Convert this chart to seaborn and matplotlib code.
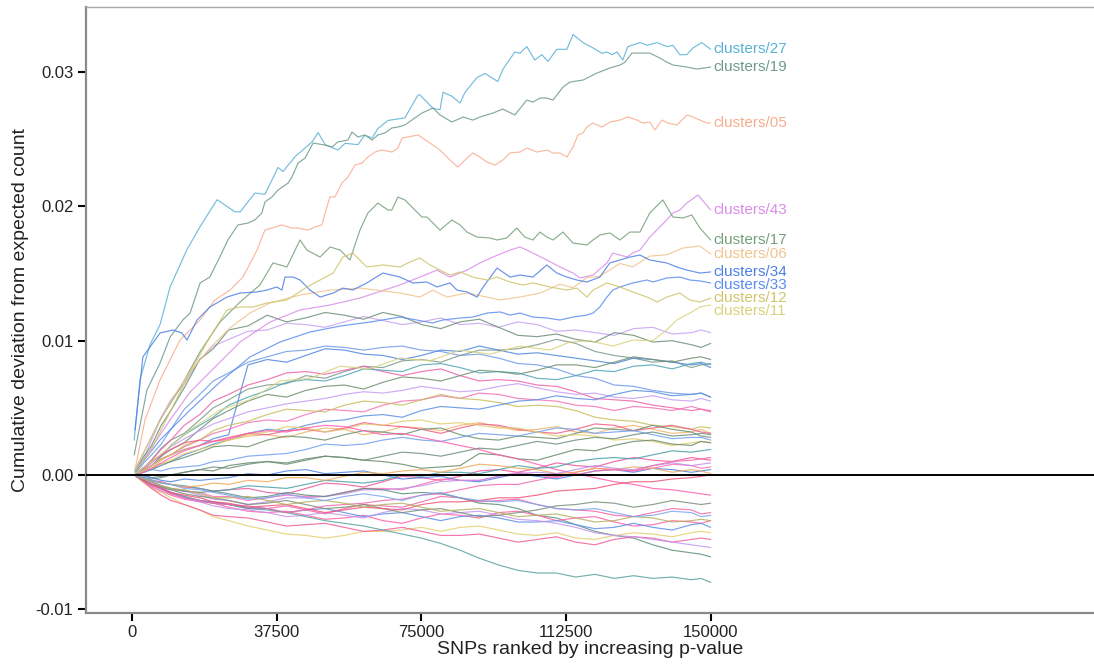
import matplotlib
matplotlib.use("Agg")
import matplotlib.pyplot as plt
import pandas as pd
import seaborn as sns

# ---------------- labelled clusters ----------------
c27_x = [500, 2000, 4600, 7200, 9800, 14200, 17600, 22000, 26600, 28000, 31800, 34400, 37800, 39100, 42200,
         46600, 48200, 50000, 53300, 55200, 58500, 60300, 62200, 63700, 66300, 70700, 74100, 74600, 78000, 79800,
         80600, 82900, 85000, 86300, 89400, 91500, 94800, 96100, 99200, 100500, 102300, 104400, 106200, 107800,
         110100, 112700, 114300, 116900, 119500, 121800, 123100, 124400, 125700, 127200, 128500, 131700, 133500,
         136100, 138700, 140200, 142000, 143800, 145400, 147700, 150000]
c27_y = [0.0026, 0.0071, 0.0097, 0.0112, 0.0140, 0.0168, 0.0185, 0.0205, 0.0196, 0.0196, 0.0210, 0.0209, 0.0229,
         0.0226, 0.0237, 0.0248, 0.0255, 0.0246, 0.0242, 0.0247, 0.0246, 0.0253, 0.0251, 0.0258, 0.0264, 0.0266,
         0.0283, 0.0283, 0.0273, 0.0272, 0.0285, 0.0282, 0.0277, 0.0285, 0.0296, 0.0299, 0.0293, 0.0302, 0.0315,
         0.0314, 0.0319, 0.0309, 0.0313, 0.0308, 0.0317, 0.0317, 0.0328, 0.0322, 0.0318, 0.0314, 0.0315, 0.0313,
         0.0315, 0.0309, 0.0319, 0.0322, 0.0320, 0.0322, 0.0319, 0.0320, 0.0313, 0.0313, 0.0318, 0.0322, 0.0317]

c19_x = [500, 3800, 7200, 9800, 13100, 15000, 17600, 20100, 22700, 24800, 27400, 30000, 31800, 33600, 34400,
         36200, 37800, 40400, 41400, 43000, 44800, 46900, 50000, 51800, 53300, 55900, 57000, 58500, 60300, 62200,
         63700, 65500, 67300, 68900, 70700, 72500, 75100, 78000, 79800, 82900, 85800, 88300, 90200, 93500, 96100,
         99200, 102300, 103900, 105700, 107500, 109100, 111700, 113500, 116900, 120500, 123900, 126500, 127800,
         129600, 131600, 134200, 136800, 138600, 140200, 143800, 146400, 150000]
c19_y = [0.00149, 0.00633, 0.00834, 0.01027, 0.01154, 0.01206, 0.01430, 0.01474, 0.01623, 0.01750, 0.01862,
         0.01876, 0.01899, 0.01951, 0.02033, 0.02070, 0.02122, 0.02174, 0.02219, 0.02323, 0.02360, 0.02472,
         0.02457, 0.02442, 0.02480, 0.02494, 0.02554, 0.02517, 0.02532, 0.02494, 0.02532, 0.02547, 0.02584,
         0.02591, 0.02606, 0.02643, 0.02695, 0.02733, 0.02681, 0.02628, 0.02666, 0.02643, 0.02666, 0.02695,
         0.02725, 0.02681, 0.02792, 0.02777, 0.02807, 0.02807, 0.02792, 0.02889, 0.02926, 0.02941, 0.02993,
         0.03031, 0.03053, 0.03075, 0.03142, 0.03142, 0.03142, 0.03105, 0.03075, 0.03053, 0.03038, 0.03023,
         0.03038]

c05_x = [700, 3300, 7200, 12400, 17550, 21450, 25350, 28700, 32350, 34400, 36200, 38800, 41400, 43000, 45550,
         47400, 49200, 50000, 51250, 52550, 54400, 55950, 57750, 59550, 61100, 62950, 64750, 67350, 68900, 69950,
         71500, 74100, 77200, 79800, 82400, 84450, 86800, 88350, 90150, 91950, 94050, 96100, 97950, 100550,
         102350, 104950, 107550, 109100, 110900, 112700, 114300, 115550, 116850, 117900, 119450, 121800, 123850,
         126450, 128550, 130850, 132400, 134200, 135550, 137350, 138900, 141250, 143850, 145400, 147200, 149000,
         150000]
c05_y = [0.00037, 0.00410, 0.00707, 0.01005, 0.01154, 0.01303, 0.01377, 0.01474, 0.01675, 0.01824, 0.01839,
         0.01862, 0.01839, 0.01839, 0.01824, 0.01847, 0.01862, 0.01951, 0.02070, 0.02070, 0.02174, 0.02219,
         0.02308, 0.02323, 0.02368, 0.02405, 0.02420, 0.02405, 0.02435, 0.02509, 0.02517, 0.02532, 0.02472,
         0.02420, 0.02345, 0.02293, 0.02360, 0.02398, 0.02368, 0.02331, 0.02308, 0.02345, 0.02398, 0.02405,
         0.02435, 0.02405, 0.02420, 0.02398, 0.02398, 0.02368, 0.02442, 0.02532, 0.02547, 0.02591, 0.02621,
         0.02591, 0.02628, 0.02643, 0.02666, 0.02643, 0.02621, 0.02628, 0.02569, 0.02643, 0.02621, 0.02606,
         0.02681, 0.02666, 0.02643, 0.02621, 0.02621]

c43_x = [700, 4600, 9800, 15000, 20150, 27950, 35700, 43500, 51300, 59050, 69400, 74600, 79000, 82400, 86800,
         90150, 93500, 97950, 100550, 103900, 107500, 110900, 114300, 116100, 119500, 123100, 124600, 128300,
         129800, 131650, 134200, 136800, 138600, 140200, 142000, 143800, 146700, 150000]
c43_y = [0.00022, 0.00186, 0.00410, 0.00618, 0.00767, 0.00990, 0.01139, 0.01229, 0.01266, 0.01318, 0.01415,
         0.01474, 0.01526, 0.01474, 0.01526, 0.01579, 0.01623, 0.01675, 0.01698, 0.01653, 0.01601, 0.01549,
         0.01504, 0.01467, 0.01489, 0.01579, 0.01653, 0.01623, 0.01653, 0.01675, 0.01772, 0.01847, 0.01899,
         0.01951, 0.01973, 0.02025, 0.02085, 0.01973]

c17_x = [700, 7200, 12400, 17550, 22750, 27950, 33100, 36500, 40100, 43500, 45300, 48700, 51300, 53900, 56450,
         59050, 61100, 63700, 66300, 67300, 68900, 70700, 72500, 75100, 76400, 79800, 82900, 85000, 86800, 89400,
         92750, 94600, 97100, 99700, 101800, 103900, 105700, 107500, 109100, 111700, 114300, 117900, 119500,
         121250, 123850, 126450, 129050, 131650, 134200, 137600, 140200, 142800, 145100, 147200, 150000]
c17_y = [0.00037, 0.00410, 0.00648, 0.00916, 0.01139, 0.01288, 0.01415, 0.01579, 0.01549, 0.01750, 0.01675,
         0.01623, 0.01698, 0.01675, 0.01601, 0.01824, 0.01951, 0.02025, 0.01973, 0.01973, 0.02070, 0.02048,
         0.01996, 0.01921, 0.01921, 0.01824, 0.01899, 0.01862, 0.01809, 0.01772, 0.01765, 0.01750, 0.01765,
         0.01839, 0.01772, 0.01750, 0.01809, 0.01772, 0.01750, 0.01809, 0.01727, 0.01713, 0.01750, 0.01787,
         0.01802, 0.01750, 0.01809, 0.01809, 0.01951, 0.02048, 0.01921, 0.01914, 0.01936, 0.01839, 0.01750]

c06_x = [700, 4600, 9800, 15000, 20150, 25350, 30500, 35700, 43500, 51300, 59050, 69400, 74600, 77900, 81600,
         86800, 92000, 95350, 100550, 105700, 110900, 114300, 117900, 121250, 126450, 129800, 134200, 138600,
         142800, 147200, 150000]
c06_y = [0.00037, 0.00261, 0.00544, 0.00767, 0.00946, 0.01095, 0.01206, 0.01281, 0.01340, 0.01377, 0.01392,
         0.01355, 0.01325, 0.01377, 0.01325, 0.01355, 0.01325, 0.01303, 0.01325, 0.01355, 0.01420, 0.01395,
         0.01470, 0.01480, 0.01575, 0.01550, 0.01630, 0.01640, 0.01690, 0.01705, 0.01646]

c34_x = [700, 2750, 7200, 10600, 12900, 14200, 16800, 20150, 24550, 27950, 32350, 34900, 37500, 38800, 39600,
         41700, 43500, 46100, 48700, 52100, 54600, 57200, 60800, 65000, 69400, 72800, 76400, 79000, 82400, 84200,
         86800, 89400, 91000, 94600, 97950, 100550, 103900, 107500, 110100, 112700, 115300, 117900, 121250,
         123850, 126450, 129050, 131650, 134200, 138600, 141200, 143800, 147200, 150000]
c34_y = [0.00335, 0.00879, 0.01057, 0.01080, 0.01057, 0.01005, 0.01154, 0.01251, 0.01325, 0.01355, 0.01363,
         0.01377, 0.01400, 0.01377, 0.01474, 0.01474, 0.01452, 0.01377, 0.01325, 0.01355, 0.01392, 0.01377,
         0.01430, 0.01504, 0.01474, 0.01430, 0.01437, 0.01400, 0.01430, 0.01377, 0.01363, 0.01325, 0.01400,
         0.01541, 0.01474, 0.01489, 0.01474, 0.01564, 0.01504, 0.01474, 0.01452, 0.01437, 0.01474, 0.01579,
         0.01601, 0.01623, 0.01638, 0.01601, 0.01579, 0.01549, 0.01526, 0.01504, 0.01512]

c33_x = [700, 7200, 15000, 22750, 30500, 38300, 46100, 53900, 61650, 69400, 73800, 77900, 80500, 85000, 88300,
         92000, 95350, 97950, 100550, 103900, 107500, 110900, 114300, 117900, 119500, 121250, 123100, 124600,
         126450, 129800, 133500, 135000, 138600, 142000, 144600, 147200, 150000]
c33_y = [0.00022, 0.00261, 0.00484, 0.00692, 0.00879, 0.00990, 0.01065, 0.01109, 0.01139, 0.01176, 0.01154,
         0.01132, 0.01154, 0.01169, 0.01176, 0.01206, 0.01214, 0.01191, 0.01206, 0.01176, 0.01169, 0.01154,
         0.01176, 0.01191, 0.01206, 0.01251, 0.01325, 0.01377, 0.01400, 0.01430, 0.01452, 0.01437, 0.01467,
         0.01474, 0.01452, 0.01445, 0.01430]

c12_x = [700, 4600, 9800, 15000, 20150, 24550, 27950, 31300, 34900, 40100, 45300, 48700, 52100, 54600, 57200,
         60800, 65000, 69400, 72000, 74600, 77200, 79800, 82400, 85000, 88300, 92000, 94600, 97950, 101300,
         103900, 108300, 112700, 115300, 117900, 119500, 123100, 126450, 129800, 133500, 136100, 138600, 142000,
         144600, 147200, 150000]
c12_y = [0.00022, 0.00171, 0.00469, 0.00767, 0.01028, 0.01229, 0.01251, 0.01251, 0.01281, 0.01303, 0.01400,
         0.01452, 0.01504, 0.01623, 0.01653, 0.01549, 0.01564, 0.01549, 0.01586, 0.01616, 0.01564, 0.01526,
         0.01489, 0.01512, 0.01474, 0.01452, 0.01474, 0.01437, 0.01415, 0.01430, 0.01400, 0.01377, 0.01392,
         0.01325, 0.01377, 0.01430, 0.01400, 0.01363, 0.01325, 0.01288, 0.01325, 0.01355, 0.01303, 0.01288,
         0.01318]

c11_x = [700, 7200, 15000, 22750, 30500, 38300, 46100, 53900, 61650, 69400, 77200, 85000, 92750, 100550, 108300,
         113500, 118650, 124600, 129800, 135000, 138600, 141200, 144600, 147200, 150000]
c11_y = [0.00007, 0.00149, 0.00335, 0.00484, 0.00560, 0.00700, 0.00720, 0.00810, 0.00790, 0.00871, 0.00850,
         0.00930, 0.00900, 0.00960, 0.00930, 0.00990, 0.01000, 0.00960, 0.01005, 0.01000, 0.01080, 0.01154,
         0.01206, 0.01251, 0.01266]

# ---------------- unlabelled clusters (shared x positions) ----------------
grid_x = [1000, 3000, 5000, 7500, 10000, 13500, 17500, 21000, 25000, 30000, 35000, 40000, 45000, 50000, 55000,
          60000, 65000, 70000, 75000, 80000, 85000, 90000, 95000, 100000, 105000, 110000, 115000, 120000, 125000,
          130000, 135000, 140000, 145000, 147500, 150000]

u1 = [0.0002, 0.0012, 0.0026, 0.0043, 0.0056, 0.0068, 0.0086, 0.0096, 0.0101, 0.0107, 0.0108, 0.0113, 0.0112, 0.0110, 0.0114, 0.0118, 0.0115, 0.0112, 0.0114, 0.0117, 0.0112, 0.0113, 0.0110, 0.0114, 0.0112, 0.0107, 0.0108, 0.0106, 0.0104, 0.0109, 0.0110, 0.0105, 0.0106, 0.0108, 0.0106]
u2 = [0.0004, 0.0014, 0.0022, 0.0037, 0.0048, 0.0065, 0.0086, 0.0094, 0.0108, 0.0111, 0.0119, 0.0114, 0.0117, 0.0121, 0.0119, 0.0116, 0.0121, 0.0118, 0.0112, 0.0109, 0.0114, 0.0116, 0.0110, 0.0104, 0.0103, 0.0105, 0.0101, 0.0099, 0.0106, 0.0104, 0.0099, 0.0100, 0.0097, 0.0095, 0.0098]
u3 = [0.0002, 0.0009, 0.0015, 0.0023, 0.0034, 0.0049, 0.0060, 0.0070, 0.0076, 0.0084, 0.0088, 0.0092, 0.0093, 0.0096, 0.0095, 0.0093, 0.0095, 0.0096, 0.0093, 0.0092, 0.0089, 0.0090, 0.0087, 0.0083, 0.0082, 0.0079, 0.0074, 0.0072, 0.0067, 0.0066, 0.0063, 0.0061, 0.0060, 0.0061, 0.0058]
u4 = [0.0001, 0.0005, 0.0011, 0.0020, 0.0026, 0.0031, 0.0041, 0.0050, 0.0056, 0.0064, 0.0067, 0.0068, 0.0074, 0.0072, 0.0077, 0.0081, 0.0080, 0.0085, 0.0086, 0.0084, 0.0089, 0.0093, 0.0093, 0.0094, 0.0097, 0.0101, 0.0098, 0.0092, 0.0089, 0.0087, 0.0084, 0.0085, 0.0080, 0.0082, 0.0083]
u5 = [0.0001, 0.0003, 0.0007, 0.0012, 0.0015, 0.0019, 0.0022, 0.0027, 0.0030, 0.0082, 0.0086, 0.0084, 0.0089, 0.0094, 0.0093, 0.0090, 0.0089, 0.0086, 0.0089, 0.0093, 0.0092, 0.0096, 0.0093, 0.0090, 0.0091, 0.0089, 0.0087, 0.0085, 0.0083, 0.0087, 0.0086, 0.0084, 0.0082, 0.0083, 0.0080]
u6 = [0.0001, 0.0005, 0.0011, 0.0019, 0.0026, 0.0037, 0.0045, 0.0055, 0.0060, 0.0067, 0.0071, 0.0076, 0.0077, 0.0075, 0.0078, 0.0081, 0.0077, 0.0074, 0.0077, 0.0079, 0.0074, 0.0070, 0.0071, 0.0070, 0.0067, 0.0066, 0.0062, 0.0057, 0.0056, 0.0055, 0.0052, 0.0050, 0.0048, 0.0049, 0.0047]
u7 = [0.0001, 0.0006, 0.0010, 0.0014, 0.0022, 0.0030, 0.0037, 0.0043, 0.0052, 0.0058, 0.0063, 0.0069, 0.0071, 0.0070, 0.0074, 0.0079, 0.0078, 0.0077, 0.0082, 0.0083, 0.0080, 0.0076, 0.0077, 0.0076, 0.0072, 0.0071, 0.0074, 0.0078, 0.0077, 0.0081, 0.0082, 0.0079, 0.0083, 0.0084, 0.0082]
u8 = [0.0001, 0.0004, 0.0007, 0.0014, 0.0019, 0.0024, 0.0034, 0.0042, 0.0048, 0.0055, 0.0060, 0.0058, 0.0063, 0.0066, 0.0067, 0.0064, 0.0069, 0.0073, 0.0072, 0.0070, 0.0074, 0.0078, 0.0077, 0.0075, 0.0078, 0.0082, 0.0082, 0.0080, 0.0084, 0.0088, 0.0086, 0.0084, 0.0087, 0.0088, 0.0086]
e1 = [0.0001, 0.0004, 0.0009, 0.0015, 0.0021, 0.0027, 0.0033, 0.0038, 0.0042, 0.0047, 0.0050, 0.0053, 0.0055, 0.0057, 0.0060, 0.0062, 0.0061, 0.0063, 0.0066, 0.0064, 0.0062, 0.0063, 0.0066, 0.0068, 0.0065, 0.0062, 0.0060, 0.0061, 0.0058, 0.0057, 0.0059, 0.0056, 0.0055, 0.0057, 0.0055]
m1 = [0.0001, 0.0004, 0.0007, 0.0012, 0.0015, 0.0021, 0.0026, 0.0031, 0.0034, 0.0039, 0.0041, 0.0040, 0.0045, 0.0049, 0.0048, 0.0047, 0.0052, 0.0055, 0.0056, 0.0059, 0.0057, 0.0061, 0.0060, 0.0057, 0.0056, 0.0055, 0.0052, 0.0051, 0.0048, 0.0051, 0.0050, 0.0048, 0.0051, 0.0049, 0.0048]
m2 = [0.0001, 0.0003, 0.0005, 0.0011, 0.0015, 0.0022, 0.0026, 0.0033, 0.0037, 0.0040, 0.0045, 0.0049, 0.0048, 0.0047, 0.0052, 0.0055, 0.0054, 0.0052, 0.0056, 0.0060, 0.0057, 0.0056, 0.0054, 0.0051, 0.0052, 0.0051, 0.0048, 0.0043, 0.0041, 0.0040, 0.0037, 0.0036, 0.0034, 0.0036, 0.0035]
m3 = [0.0001, 0.0002, 0.0004, 0.0007, 0.0010, 0.0015, 0.0019, 0.0023, 0.0026, 0.0031, 0.0034, 0.0033, 0.0037, 0.0040, 0.0041, 0.0044, 0.0045, 0.0043, 0.0048, 0.0051, 0.0050, 0.0049, 0.0052, 0.0055, 0.0056, 0.0059, 0.0057, 0.0056, 0.0060, 0.0063, 0.0062, 0.0059, 0.0060, 0.0061, 0.0058]
m4 = [0.0001, 0.0004, 0.0007, 0.0012, 0.0015, 0.0019, 0.0022, 0.0025, 0.0026, 0.0029, 0.0030, 0.0028, 0.0032, 0.0035, 0.0034, 0.0030, 0.0032, 0.0036, 0.0035, 0.0033, 0.0037, 0.0039, 0.0036, 0.0033, 0.0034, 0.0036, 0.0032, 0.0031, 0.0035, 0.0037, 0.0034, 0.0031, 0.0032, 0.0034, 0.0031]
m5 = [0.0001, 0.0005, 0.0010, 0.0015, 0.0019, 0.0024, 0.0026, 0.0025, 0.0028, 0.0031, 0.0030, 0.0033, 0.0034, 0.0032, 0.0035, 0.0039, 0.0037, 0.0036, 0.0034, 0.0031, 0.0035, 0.0038, 0.0037, 0.0034, 0.0032, 0.0031, 0.0034, 0.0038, 0.0037, 0.0033, 0.0035, 0.0037, 0.0034, 0.0032, 0.0031]
m6 = [0.0001, 0.0003, 0.0004, 0.0008, 0.0010, 0.0013, 0.0017, 0.0021, 0.0022, 0.0021, 0.0026, 0.0029, 0.0028, 0.0026, 0.0030, 0.0033, 0.0032, 0.0030, 0.0034, 0.0035, 0.0030, 0.0027, 0.0026, 0.0029, 0.0028, 0.0027, 0.0031, 0.0035, 0.0034, 0.0033, 0.0037, 0.0034, 0.0032, 0.0029, 0.0028]
m7 = [0.0001, 0.0003, 0.0004, 0.0003, 0.0005, 0.0006, 0.0007, 0.0010, 0.0011, 0.0014, 0.0015, 0.0016, 0.0019, 0.0023, 0.0022, 0.0023, 0.0026, 0.0028, 0.0026, 0.0025, 0.0028, 0.0031, 0.0030, 0.0029, 0.0032, 0.0035, 0.0034, 0.0031, 0.0032, 0.0033, 0.0030, 0.0027, 0.0028, 0.0028, 0.0026]
m8 = [0.0001, 0.0003, 0.0005, 0.0008, 0.0011, 0.0016, 0.0019, 0.0022, 0.0026, 0.0030, 0.0032, 0.0036, 0.0035, 0.0032, 0.0034, 0.0038, 0.0037, 0.0040, 0.0041, 0.0038, 0.0039, 0.0037, 0.0035, 0.0035, 0.0032, 0.0029, 0.0030, 0.0029, 0.0026, 0.0027, 0.0025, 0.0022, 0.0024, 0.0025, 0.0024]
m9 = [0.0001, 0.0000, -0.0002, -0.0001, 0.0000, 0.0002, 0.0004, 0.0003, 0.0007, 0.0009, 0.0010, 0.0008, 0.0011, 0.0014, 0.0013, 0.0011, 0.0010, 0.0008, 0.0005, 0.0006, 0.0007, 0.0016, 0.0015, 0.0012, 0.0011, 0.0015, 0.0019, 0.0018, 0.0022, 0.0025, 0.0026, 0.0023, 0.0022, 0.0025, 0.0024]
e2 = [0.0000, 0.0002, 0.0005, 0.0009, 0.0013, 0.0018, 0.0022, 0.0025, 0.0027, 0.0031, 0.0033, 0.0032, 0.0035, 0.0037, 0.0036, 0.0033, 0.0030, 0.0031, 0.0028, 0.0025, 0.0022, 0.0019, 0.0015, 0.0012, 0.0008, 0.0004, 0.0001, -0.0002, -0.0005, -0.0007, -0.0010, -0.0011, -0.0013, -0.0014, -0.0015]
e3 = [0.0000, -0.0002, -0.0003, -0.0002, 0.0000, 0.0002, 0.0004, 0.0006, 0.0005, 0.0008, 0.0010, 0.0009, 0.0012, 0.0014, 0.0013, 0.0011, 0.0014, 0.0017, 0.0016, 0.0014, 0.0017, 0.0020, 0.0019, 0.0022, 0.0025, 0.0023, 0.0026, 0.0028, 0.0027, 0.0030, 0.0032, 0.0029, 0.0030, 0.0031, 0.0030]
z1 = [-0.0001, -0.0003, -0.0004, -0.0005, -0.0007, -0.0009, -0.0010, -0.0012, -0.0011, -0.0010, -0.0013, -0.0014, -0.0010, -0.0006, -0.0007, -0.0009, -0.0005, -0.0001, -0.0002, -0.0004, -0.0001, 0.0003, 0.0004, 0.0002, 0.0005, 0.0009, 0.0007, 0.0006, 0.0010, 0.0013, 0.0011, 0.0010, 0.0013, 0.0012, 0.0011]
z2 = [0.0001, -0.0001, -0.0002, -0.0004, -0.0005, -0.0003, -0.0004, -0.0003, -0.0002, 0.0001, 0.0000, 0.0003, 0.0004, 0.0001, 0.0002, 0.0003, 0.0000, -0.0003, -0.0002, -0.0001, -0.0004, -0.0005, -0.0002, 0.0001, -0.0001, -0.0003, 0.0000, 0.0003, 0.0004, 0.0002, 0.0005, 0.0004, 0.0002, 0.0003, 0.0004]
z3 = [0.0000, -0.0002, -0.0004, -0.0006, -0.0007, -0.0008, -0.0010, -0.0012, -0.0011, -0.0008, -0.0009, -0.0010, -0.0007, -0.0004, -0.0005, -0.0006, -0.0004, 0.0000, -0.0001, 0.0002, 0.0002, 0.0001, 0.0004, 0.0007, 0.0005, 0.0006, 0.0010, 0.0012, 0.0013, 0.0012, 0.0015, 0.0018, 0.0017, 0.0018, 0.0019]
z4 = [-0.0001, -0.0003, -0.0005, -0.0008, -0.0010, -0.0012, -0.0013, -0.0016, -0.0016, -0.0019, -0.0017, -0.0015, -0.0016, -0.0016, -0.0013, -0.0010, -0.0010, -0.0011, -0.0007, -0.0003, -0.0004, -0.0004, -0.0001, 0.0002, 0.0000, -0.0002, 0.0002, 0.0005, 0.0004, 0.0003, 0.0005, 0.0008, 0.0007, 0.0005, 0.0006]
z5 = [0.0000, -0.0002, -0.0004, -0.0006, -0.0007, -0.0009, -0.0008, -0.0006, -0.0007, -0.0004, -0.0005, -0.0002, -0.0002, -0.0004, -0.0001, 0.0002, 0.0001, 0.0003, 0.0004, 0.0002, 0.0005, 0.0008, 0.0007, 0.0005, 0.0004, 0.0001, 0.0002, 0.0005, 0.0004, 0.0006, 0.0005, 0.0002, 0.0004, 0.0003, 0.0001]
z6 = [-0.0001, -0.0004, -0.0006, -0.0009, -0.0011, -0.0012, -0.0015, -0.0018, -0.0019, -0.0022, -0.0020, -0.0017, -0.0017, -0.0016, -0.0014, -0.0011, -0.0011, -0.0010, -0.0008, -0.0005, -0.0004, -0.0004, -0.0001, 0.0001, 0.0002, 0.0001, 0.0004, 0.0007, 0.0005, 0.0004, 0.0007, 0.0009, 0.0007, 0.0008, 0.0009]
n1 = [-0.0001, -0.0004, -0.0007, -0.0009, -0.0013, -0.0016, -0.0019, -0.0020, -0.0022, -0.0025, -0.0025, -0.0023, -0.0026, -0.0029, -0.0025, -0.0022, -0.0023, -0.0024, -0.0020, -0.0016, -0.0017, -0.0020, -0.0019, -0.0018, -0.0022, -0.0025, -0.0026, -0.0027, -0.0030, -0.0031, -0.0028, -0.0025, -0.0026, -0.0029, -0.0028]
n2 = [-0.0001, -0.0003, -0.0005, -0.0008, -0.0010, -0.0012, -0.0013, -0.0012, -0.0014, -0.0017, -0.0016, -0.0013, -0.0015, -0.0016, -0.0013, -0.0010, -0.0011, -0.0014, -0.0013, -0.0014, -0.0017, -0.0021, -0.0022, -0.0025, -0.0030, -0.0032, -0.0037, -0.0042, -0.0045, -0.0047, -0.0052, -0.0056, -0.0058, -0.0059, -0.0061]
n3 = [-0.0001, -0.0005, -0.0009, -0.0012, -0.0015, -0.0018, -0.0020, -0.0021, -0.0024, -0.0027, -0.0028, -0.0027, -0.0030, -0.0033, -0.0032, -0.0030, -0.0034, -0.0036, -0.0032, -0.0029, -0.0030, -0.0032, -0.0028, -0.0027, -0.0030, -0.0034, -0.0032, -0.0031, -0.0035, -0.0038, -0.0037, -0.0034, -0.0035, -0.0036, -0.0034]
n4 = [-0.0001, -0.0004, -0.0007, -0.0010, -0.0013, -0.0017, -0.0019, -0.0020, -0.0022, -0.0024, -0.0025, -0.0028, -0.0026, -0.0025, -0.0028, -0.0031, -0.0029, -0.0028, -0.0031, -0.0034, -0.0031, -0.0030, -0.0032, -0.0035, -0.0035, -0.0034, -0.0037, -0.0040, -0.0039, -0.0036, -0.0039, -0.0041, -0.0037, -0.0036, -0.0039]
n5 = [-0.0001, -0.0006, -0.0010, -0.0013, -0.0017, -0.0022, -0.0026, -0.0031, -0.0034, -0.0038, -0.0041, -0.0044, -0.0045, -0.0047, -0.0045, -0.0042, -0.0042, -0.0041, -0.0039, -0.0042, -0.0039, -0.0038, -0.0041, -0.0044, -0.0045, -0.0043, -0.0047, -0.0048, -0.0045, -0.0043, -0.0044, -0.0046, -0.0043, -0.0042, -0.0043]
n6 = [-0.0001, -0.0005, -0.0010, -0.0015, -0.0019, -0.0022, -0.0026, -0.0030, -0.0031, -0.0032, -0.0035, -0.0038, -0.0037, -0.0036, -0.0039, -0.0042, -0.0041, -0.0039, -0.0042, -0.0045, -0.0045, -0.0044, -0.0047, -0.0050, -0.0048, -0.0046, -0.0050, -0.0052, -0.0048, -0.0046, -0.0047, -0.0050, -0.0048, -0.0047, -0.0048]
n7 = [-0.0001, -0.0004, -0.0008, -0.0011, -0.0014, -0.0017, -0.0020, -0.0023, -0.0025, -0.0026, -0.0028, -0.0031, -0.0030, -0.0028, -0.0030, -0.0032, -0.0028, -0.0025, -0.0026, -0.0029, -0.0028, -0.0027, -0.0030, -0.0033, -0.0034, -0.0036, -0.0039, -0.0043, -0.0045, -0.0046, -0.0048, -0.0050, -0.0052, -0.0053, -0.0054]
n8 = [-0.0001, -0.0004, -0.0007, -0.0009, -0.0011, -0.0014, -0.0016, -0.0017, -0.0019, -0.0022, -0.0021, -0.0019, -0.0022, -0.0025, -0.0024, -0.0022, -0.0025, -0.0028, -0.0026, -0.0025, -0.0028, -0.0031, -0.0030, -0.0028, -0.0026, -0.0023, -0.0022, -0.0020, -0.0021, -0.0024, -0.0022, -0.0019, -0.0021, -0.0022, -0.0021]
n9 = [-0.0001, -0.0004, -0.0007, -0.0010, -0.0013, -0.0016, -0.0019, -0.0021, -0.0022, -0.0025, -0.0026, -0.0028, -0.0031, -0.0034, -0.0036, -0.0038, -0.0041, -0.0044, -0.0047, -0.0051, -0.0056, -0.0062, -0.0067, -0.0071, -0.0073, -0.0073, -0.0076, -0.0074, -0.0077, -0.0075, -0.0077, -0.0076, -0.0078, -0.0077, -0.0080]
n10 = [-0.0001, -0.0005, -0.0008, -0.0010, -0.0014, -0.0017, -0.0019, -0.0021, -0.0022, -0.0023, -0.0025, -0.0028, -0.0026, -0.0023, -0.0022, -0.0021, -0.0019, -0.0018, -0.0015, -0.0014, -0.0011, -0.0008, -0.0007, -0.0007, -0.0004, -0.0001, 0.0000, 0.0003, 0.0004, 0.0003, 0.0007, 0.0010, 0.0011, 0.0012, 0.0013]
n11 = [-0.0001, -0.0004, -0.0007, -0.0010, -0.0013, -0.0015, -0.0017, -0.0020, -0.0021, -0.0024, -0.0023, -0.0022, -0.0025, -0.0028, -0.0026, -0.0024, -0.0025, -0.0026, -0.0022, -0.0020, -0.0020, -0.0019, -0.0017, -0.0017, -0.0015, -0.0012, -0.0011, -0.0010, -0.0007, -0.0005, -0.0005, -0.0003, -0.0002, -0.0001, 0.0000]
n12 = [-0.0001, -0.0003, -0.0005, -0.0008, -0.0010, -0.0011, -0.0014, -0.0017, -0.0017, -0.0016, -0.0019, -0.0022, -0.0020, -0.0019, -0.0021, -0.0024, -0.0022, -0.0021, -0.0024, -0.0027, -0.0026, -0.0025, -0.0028, -0.0031, -0.0030, -0.0029, -0.0032, -0.0035, -0.0034, -0.0031, -0.0032, -0.0035, -0.0034, -0.0033, -0.0034]
n13 = [-0.0001, -0.0002, -0.0004, -0.0006, -0.0007, -0.0010, -0.0011, -0.0013, -0.0015, -0.0018, -0.0017, -0.0014, -0.0017, -0.0019, -0.0016, -0.0014, -0.0016, -0.0019, -0.0015, -0.0013, -0.0017, -0.0019, -0.0020, -0.0019, -0.0022, -0.0025, -0.0026, -0.0025, -0.0028, -0.0031, -0.0030, -0.0027, -0.0028, -0.0031, -0.0030]

unlabelled = [
    ("u1", u1, "#c7a3f0"), ("u2", u2, "#6d9078"), ("u3", u3, "#6e9ae8"), ("u4", u4, "#7d9a88"),
    ("u5", u5, "#4f86e0"), ("u6", u6, "#f062a8"), ("u7", u7, "#4fa5b5"), ("u8", u8, "#6f8f6f"),
    ("e1", e1, "#c79cf2"), ("m1", m1, "#f472b6"), ("m2", m2, "#c9bd5e"), ("m3", m3, "#5a8fe0"),
    ("m4", m4, "#f0b36a"), ("m5", m5, "#f25c8a"), ("m6", m6, "#6b9070"), ("m7", m7, "#6f9ff0"),
    ("m8", m8, "#e0cd6a"), ("m9", m9, "#6a8a6a"), ("e2", e2, "#ff5fae"), ("e3", e3, "#6d8f7c"),
    ("z1", z1, "#f0549c"), ("z2", z2, "#4f86e6"), ("z3", z3, "#4aa0a8"), ("z4", z4, "#ff6fb5"),
    ("z5", z5, "#f2a85a"), ("z6", z6, "#c08ee8"), ("n1", n1, "#f266aa"), ("n2", n2, "#5f8f80"),
    ("n3", n3, "#ff5fa8"), ("n4", n4, "#5d8ee8"), ("n5", n5, "#e3cf6e"), ("n6", n6, "#f45e9c"),
    ("n7", n7, "#c594ee"), ("n8", n8, "#7a8f7a"), ("n9", n9, "#5aa3a0"), ("n10", n10, "#f06aa8"),
    ("n11", n11, "#f0567a"), ("n12", n12, "#b5b060"), ("n13", n13, "#7aa6f0"),
]

labelled = [
    ("clusters/27", c27_x, c27_y, "#5ab2d6"),
    ("clusters/19", c19_x, c19_y, "#6f9a8e"),
    ("clusters/05", c05_x, c05_y, "#f7ad90"),
    ("clusters/43", c43_x, c43_y, "#d98ce8"),
    ("clusters/17", c17_x, c17_y, "#77a07c"),
    ("clusters/06", c06_x, c06_y, "#f0c48c"),
    ("clusters/34", c34_x, c34_y, "#4d7fe6"),
    ("clusters/33", c33_x, c33_y, "#5b8cf0"),
    ("clusters/12", c12_x, c12_y, "#cfc46c"),
    ("clusters/11", c11_x, c11_y, "#d9d27c"),
]

x_ticks = [0, 37500, 75000, 112500, 150000]
x_tick_labels = ["0", "37500", "75000", "112500", "150000"]
y_ticks = [-0.01, 0.0, 0.01, 0.02, 0.03]
y_tick_labels = ["-0.01", "0.00", "0.01", "0.02", "0.03"]

# ---------------- build long-form table ----------------
rows = []
palette = {}
for name, ys, col in unlabelled:
    assert len(ys) == len(grid_x), name
    palette[name] = col
    for x, y in zip(grid_x, ys):
        rows.append((name, x, y))
for name, xs, ys, col in labelled:
    assert len(xs) == len(ys), name
    palette[name] = col
    for x, y in zip(xs, ys):
        rows.append((name, x, y))
df = pd.DataFrame(rows, columns=["cluster", "snp", "dev"])

sns.set_theme(style="white")
plt.rcParams["font.family"] = ["Liberation Sans", "DejaVu Sans"]

W, H = 1094, 665
fig = plt.figure(figsize=(W / 100, H / 100), dpi=100)
ax = fig.add_axes([86 / W, 1 - 612.5 / H, 1 - 86 / W, (612.5 - 7) / H])

sns.lineplot(data=df, x="snp", y="dev", hue="cluster", palette=palette,
             hue_order=list(palette.keys()), estimator=None, legend=False,
             linewidth=0.85, alpha=0.85, ax=ax)

ax.axhline(0, color="black", lw=1.4, zorder=5)

# labels at line ends, pushed apart so they do not overlap
ends = sorted(((ys[-1], name, col, xs[-1]) for name, xs, ys, col in labelled), reverse=True)
gap = 0.00095
prev = None
for yend, name, col, xend in ends:
    ypos = yend if prev is None else min(yend, prev - gap)
    prev = ypos
    ax.text(xend + 800, ypos, name, color=col, fontsize=11, ha="left", va="center")

ax.set_xlim(-12000, 249400)
ax.set_ylim(-0.01024, 0.03485)
ax.set_xticks(x_ticks)
ax.set_xticklabels(x_tick_labels)
ax.set_yticks(y_ticks)
ax.set_yticklabels(y_tick_labels)
ax.tick_params(axis="both", which="major", bottom=True, left=True, direction="out",
               length=6, width=1.5, color="black", labelsize=12, labelcolor="#222222", pad=3)
ax.set_xlabel("SNPs ranked by increasing p-value", fontsize=14, color="#222222", labelpad=1)
ax.set_ylabel("Cumulative deviation from expected count", fontsize=14, color="#222222", labelpad=5)

for side in ["left", "bottom"]:
    ax.spines[side].set_color("#8a8a8a")
    ax.spines[side].set_linewidth(1.6)
ax.spines["top"].set_color("#a8a8a8")
ax.spines["top"].set_linewidth(1.0)
ax.spines["right"].set_visible(False)
ax.grid(False)

fig.savefig("out.png", dpi=100)
